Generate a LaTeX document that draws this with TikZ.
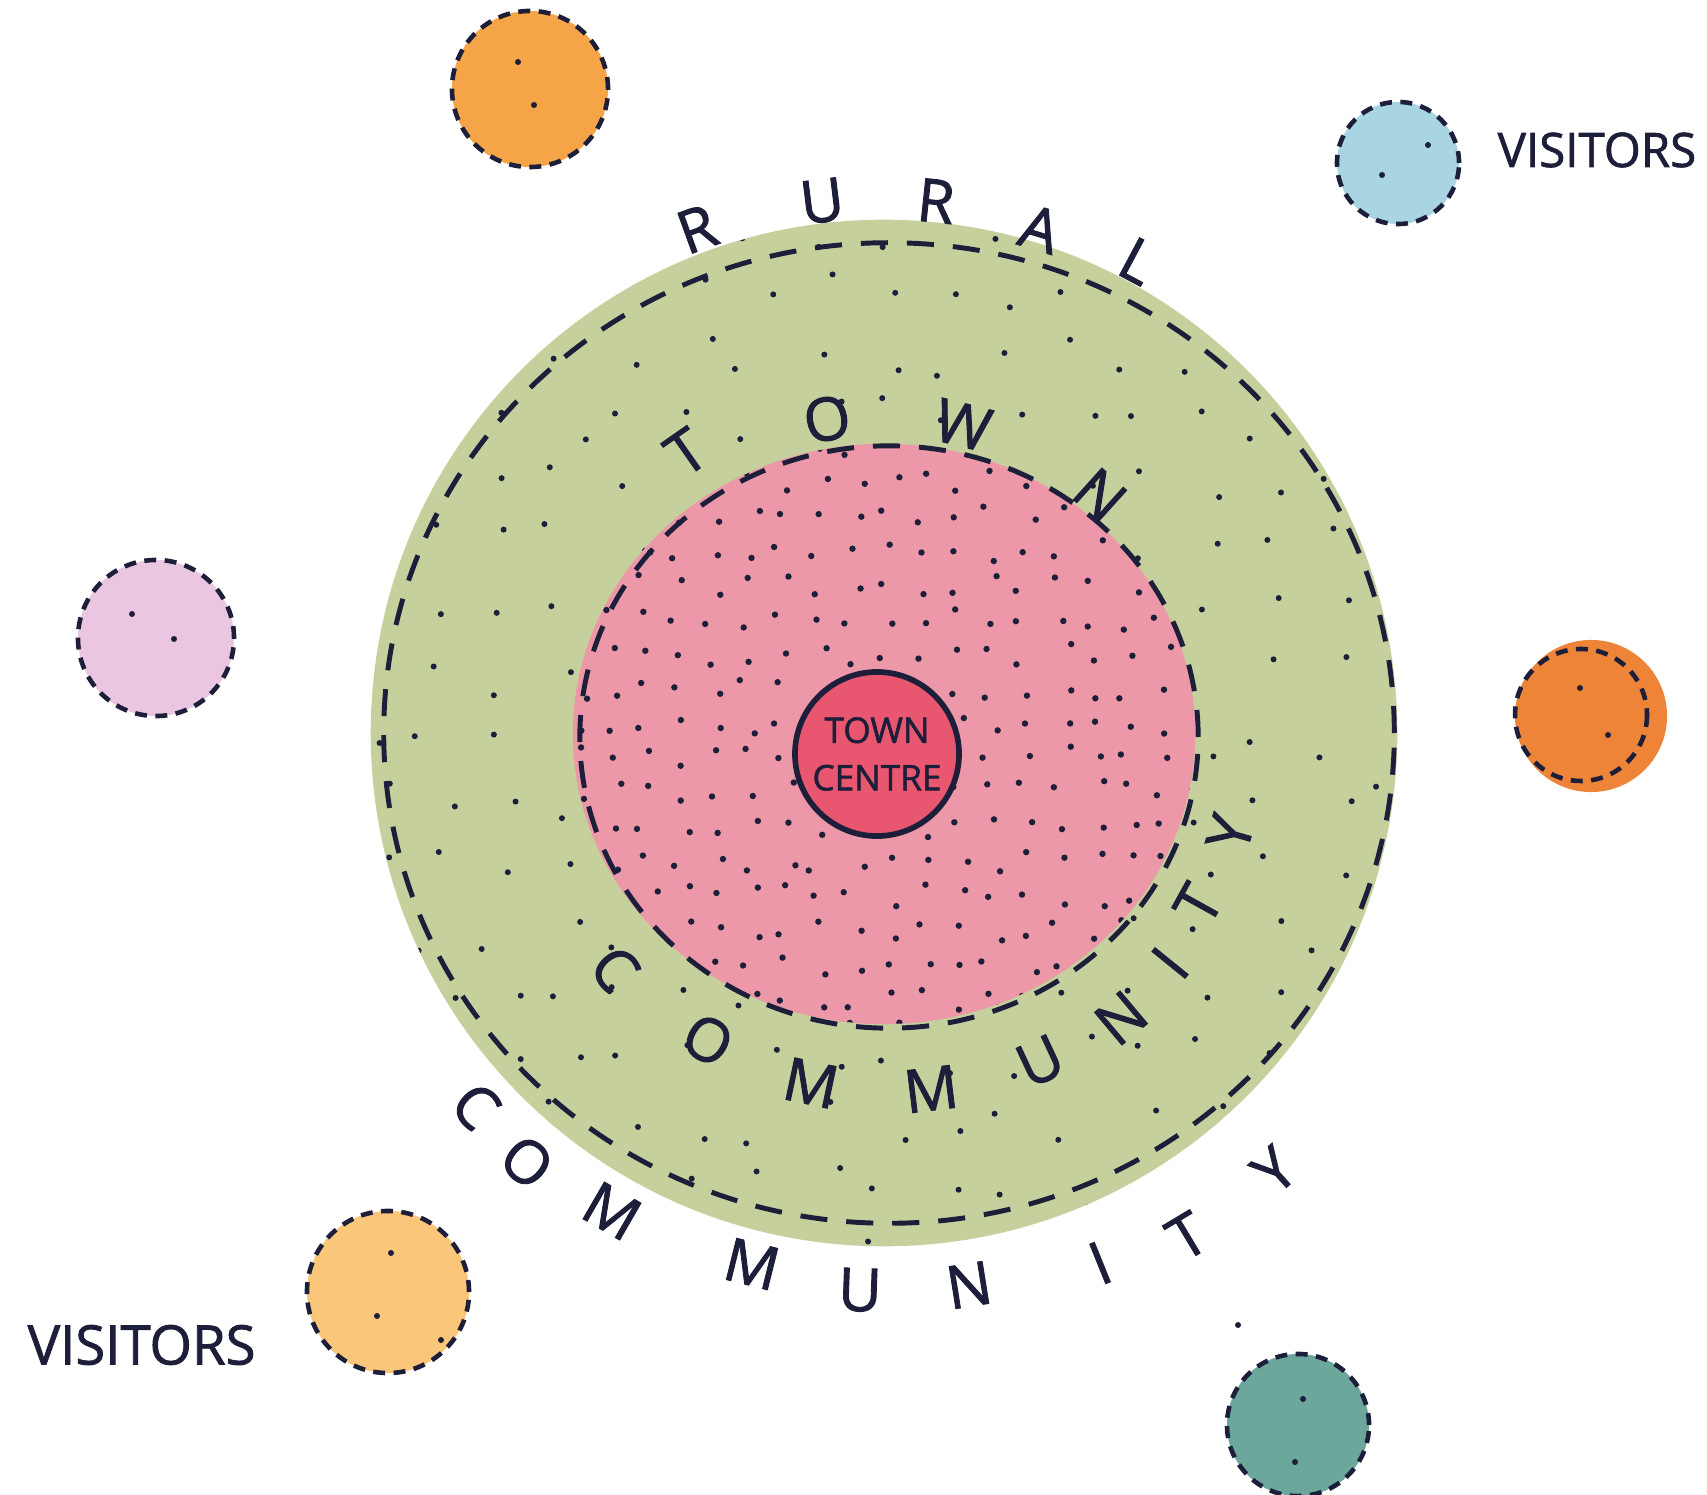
\documentclass[tikz,border=0pt]{standalone}
\usepackage{fontspec}
\setmainfont{Open Sans}
\newfontfamily\handfont{Open Sans}[FakeBold=1.5]
\usepackage{tikz}
\usetikzlibrary{shapes.geometric}

\definecolor{ink}{HTML}{1C1E3A}
\definecolor{ruralgreen}{HTML}{C5D09C}
\definecolor{townpink}{HTML}{EC98A8}
\definecolor{centrered}{HTML}{E8566F}
\definecolor{vorange}{HTML}{F5A447}
\definecolor{vblue}{HTML}{A8D5E1}
\definecolor{vlilac}{HTML}{EAC6E0}
\definecolor{vcoral}{HTML}{EE8438}
\definecolor{vamber}{HTML}{F9C67A}
\definecolor{vteal}{HTML}{6CA79C}

\begin{document}
\begin{tikzpicture}[
    x=0.01cm, y=-0.01cm,
    visitor/.style={circle, draw=ink, fill=#1, line width=1.3pt,
                    dash pattern=on 3.4pt off 2.4pt, inner sep=0pt, minimum size=1.52cm},
    ring/.style={ellipse, draw=ink, line width=1.4pt,
                 dash pattern=on 7.7pt off 5.4pt, inner sep=0pt},
    ltr/.style={font=\handfont\fontsize{17}{17}\selectfont, text=ink, inner sep=0pt},
    tag/.style={font=\handfont\fontsize{#1}{#1}\selectfont, text=ink, inner sep=0pt},
    speck/.style={fill=ink},
]
\useasboundingbox (0,0) rectangle (1707,1495);
\pgfmathsetseed{17}

% rural community
\node[circle, fill=ruralgreen, minimum size=10.26cm, inner sep=0pt] (rural) at (884,733) {};
\begin{scope}
  \clip (884,733) circle [radius=513];
  \foreach \i in {0,...,16} \foreach \j in {0,...,16} {
    \pgfmathsetmacro\sx{372+\i*64+rand*22}
    \pgfmathsetmacro\sy{226+\j*64+rand*22}
    \fill[speck] (\sx,\sy) circle [radius=3];
  }
\end{scope}
\node[ring, minimum width=10.1cm, minimum height=9.8cm] (ruralline) at (889,733) {};

% town community
\node[ellipse, fill=townpink, minimum width=6.22cm, minimum height=5.8cm, inner sep=0pt] (town) at (884,734) {};
\begin{scope}
  \clip (884,734) ellipse [x radius=311, y radius=290];
  \foreach \i in {0,...,18} \foreach \j in {0,...,17} {
    \pgfmathsetmacro\sx{578+\i*34.5+rand*11}
    \pgfmathsetmacro\sy{447+\j*34.5+rand*11}
    \fill[speck] (\sx,\sy) circle [radius=3.2];
  }
\end{scope}
\node[ring, minimum width=6.18cm, minimum height=5.82cm] (townline) at (889,737) {};

% town centre
\node[circle, fill=centrered, draw=ink, line width=1.6pt, minimum size=1.64cm,
      inner sep=0pt] (centre) at (877,754) {};
\node[align=center, text=ink, inner sep=0pt,
      font=\handfont\fontsize{10}{13.5}\selectfont] (centretext) at (centre) {TOWN\\CENTRE};

% lettering round the rings
\foreach \l/\px/\py/\r [count=\k] in {R/697/229/20, U/822/201/7, R/936/201/-6,
    A/1040/229/-17, L/1138/261/-28}
  \node[ltr, rotate=\r] (rural-\k) at (\px,\py) {\l};
\foreach \l/\px/\py/\r [count=\k] in {C/476/1106/-47, O/527/1162/-40, M/612/1211/-30,
    M/752/1264/-14, U/860/1290/-2, N/969/1285/9, I/1100/1263/22, T/1187/1236/31,
    Y/1274/1170/42}
  \node[ltr, rotate=\r] (ruralc-\k) at (\px,\py) {\l};
\foreach \l/\px/\py/\r [count=\k] in {T/686/452/35, O/827/419/11, W/963/425/-14,
    N/1100/495/-42}
  \node[ltr, rotate=\r] (town-\k) at (\px,\py) {\l};
\foreach \l/\px/\py/\r [count=\k] in {C/615/969/-49, O/708/1040/-30, M/811/1083/-12,
    M/931/1089/7, U/1040/1061/25, N/1121/1018/40, I/1170/963/51, T/1198/904/61,
    Y/1230/833/74}
  \node[ltr, rotate=\r] (townc-\k) at (\px,\py) {\l};

% visitors
\node[visitor=vorange, minimum size=1.56cm] (vtop) at (530,89) {};
\node[visitor=vblue, minimum size=1.22cm] (vnortheast) at (1398,163) {};
\node[visitor=vlilac, minimum size=1.56cm] (vwest) at (156,638) {};
\node[visitor=vcoral, draw=none] (veast) at (1591,716) {};
\draw[ink, line width=1.3pt, dash pattern=on 3.4pt off 2.4pt] (1581,715) circle [radius=66];
\node[visitor=vamber, minimum size=1.62cm] (vsouthwest) at (388,1292) {};
\node[visitor=vteal, minimum size=1.42cm] (vsoutheast) at (1298,1425) {};

\fill[speck] (518,62) circle [radius=3] (534,105) circle [radius=3];
\fill[speck] (1428,145) circle [radius=3] (1382,175) circle [radius=3];
\fill[speck] (132,614) circle [radius=3] (174,639) circle [radius=3];
\fill[speck] (1580,688) circle [radius=3] (1608,735) circle [radius=3];
\fill[speck] (391,1253) circle [radius=3] (377,1316) circle [radius=3] (441,1340) circle [radius=3];
\fill[speck] (1303,1399) circle [radius=3] (1295,1462) circle [radius=3] (1238,1325) circle [radius=3];

\node[tag=13.5, anchor=west] (visitors-ne) at (1497,150) {VISITORS};
\node[tag=15.5, anchor=west] (visitors-sw) at (27,1345) {VISITORS};
\end{tikzpicture}
\end{document}
